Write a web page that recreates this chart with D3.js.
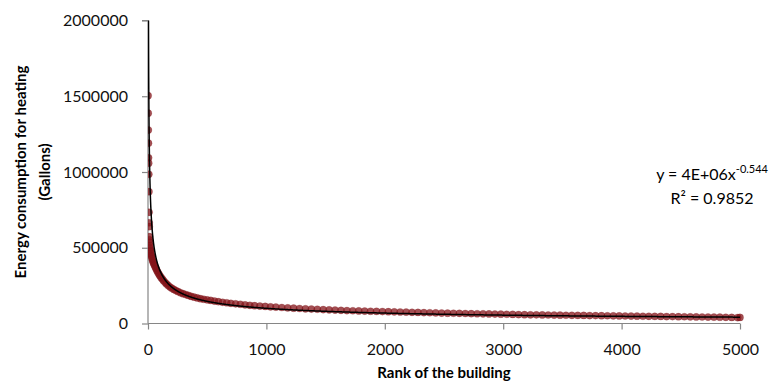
<!DOCTYPE html>
<html><head><meta charset="utf-8">
<script src="https://cdn.jsdelivr.net/npm/d3@7"></script>
<style>body{margin:0;background:#fff}svg{display:block}text{font-family:Lato,"Open Sans",sans-serif}</style>
</head><body><svg id="c" width="772" height="389"></svg>
<script>
// Rank of the building (x) and heating energy consumption in gallons (y)
const ranks = [1,2,3,4,5,6,7,8,9,10,11,12,13,14,16,18,20,22,25,28,31,35,39,44,49,55,61,68,75,83,91,100,110,120,131,143,156,170,185,200,218,236,255,275,296,318,341,365,390,416,443,471,500,530,562,595,630,665,700,740,780,820,860,900,945,990,1035,1080,1130,1180,1230,1280,1330,1380,1430,1480,1530,1580,1630,1680,1730,1780,1830,1880,1930,1980,2030,2080,2130,2180,2230,2280,2330,2380,2430,2480,2530,2580,2630,2680,2730,2780,2830,2880,2930,2980,3030,3080,3130,3180,3230,3280,3330,3380,3430,3480,3530,3580,3630,3680,3730,3780,3830,3880,3930,3980,4030,4080,4130,4180,4230,4280,4330,4380,4430,4480,4530,4580,4630,4680,4730,4780,4830,4880,4930,4980,5000];
const gallons = [1504000,1388000,1277000,1190000,1094000,1058000,985000,870000,734000,665000,639000,573000,552000,535000,515000,500000,485000,475000,462000,450000,440000,428000,416000,404000,394000,384000,373000,362000,350000,338000,327000,316000,304000,294000,283000,272000,261000,251000,241000,233000,225000,217000,210000,203000,197000,191000,185000,179000,174000,169000,164000,160000,156000,152000,148000,144000,140000,137000,133000,130000,127000,123000,120000,117500,115000,112500,110000,108000,105500,103000,101000,99000,97000,95500,94000,92000,90000,88500,87000,85500,84000,83000,82000,81000,80000,79000,78000,77000,76000,75000,74000,73000,72000,71000,70000,69000,68000,67500,67000,66000,65000,64500,64000,63000,62000,61500,61000,60000,59000,58000,57500,57000,56500,56000,55500,55000,54500,54000,53500,53000,52500,52000,51500,51000,50500,50000,49500,49000,48500,48000,47500,47000,46500,46000,45500,45000,44500,44000,43500,43000,42500,42000,41500,41000,40000,39000,40000];
// Power trendline: displayed as y = 4E+06 x^-0.544 (coefficient rounded on the label)
const trendCoef = 4.3e6, trendExp = -0.544;
const xTicks = [0,1000,2000,3000,4000,5000];
const yTicks = [0,500000,1000000,1500000,2000000];

const svg = d3.select("#c");
const L = 148, R = 740, T = 20.5, B = 323.5;
const x = d3.scaleLinear().domain([0,5000]).range([L,R]);
const y = d3.scaleLinear().domain([0,2000000]).range([B,T]);

svg.append("defs").append("clipPath").attr("id","plot")
  .append("rect").attr("x",L).attr("y",T).attr("width",R-L+10).attr("height",B-T);

const axisColor = "#868686";
const gy = svg.append("g").attr("transform",`translate(${L},0)`)
  .call(d3.axisLeft(y).tickValues(yTicks).tickFormat(d3.format("d")).tickSize(6).tickPadding(14));
const gx = svg.append("g").attr("transform",`translate(0,${B})`)
  .call(d3.axisBottom(x).tickValues(xTicks).tickFormat(d3.format("d")).tickSize(6).tickPadding(14));
[gx,gy].forEach(g=>{
  g.select(".domain").attr("stroke",axisColor).attr("stroke-width",1.2);
  g.selectAll(".tick line").attr("stroke",axisColor).attr("stroke-width",1.2);
  g.selectAll(".tick text").attr("fill","#111").style("font-size","16px").style("font-family","Lato");
});
gy.select(".domain").attr("d",`M-6,${T}H0V${B}`);
gx.select(".domain").attr("d",`M${L},0H${R}`);

const pts = ranks.map((r,i)=>({r, v:gallons[i]}));
svg.append("g").attr("clip-path","url(#plot)").selectAll("circle").data(pts).join("circle")
  .attr("cx",d=>x(d.r)).attr("cy",d=>y(d.v)).attr("r",3.6)
  .attr("fill","#84141a").attr("fill-opacity",0.75)
  .attr("stroke","#7a1216").attr("stroke-opacity",0.3).attr("stroke-width",0.6);

const trendX = d3.range(1,5001,1);
const line = d3.line().x(d=>x(d)).y(d=>y(trendCoef*Math.pow(d,trendExp)));
svg.append("path").attr("clip-path","url(#plot)").datum(trendX)
  .attr("d",line).attr("fill","none").attr("stroke","#000").attr("stroke-width",1.5);

svg.append("text").attr("x",444).attr("y",378).attr("text-anchor","middle")
  .style("font-size","15px").style("font-weight","bold").text("Rank of the building");
const yt = svg.append("text").attr("transform","translate(26,172) rotate(-90)")
  .attr("text-anchor","middle").style("font-size","15px").style("font-weight","bold");
yt.append("tspan").attr("x",0).attr("dy",0).text("Energy consumption for heating");
yt.append("tspan").attr("x",0).attr("dy",24).text("(Gallons)");

const eq = svg.append("text").attr("x",768).attr("y",180).attr("text-anchor","end").style("font-size","16px");
eq.append("tspan").text("y = 4E+06x");
eq.append("tspan").attr("dy",-7).style("font-size","11px").text("-0.544");
svg.append("text").attr("x",712).attr("y",204).attr("text-anchor","middle").style("font-size","16px").text("R² = 0.9852");
</script></body></html>
